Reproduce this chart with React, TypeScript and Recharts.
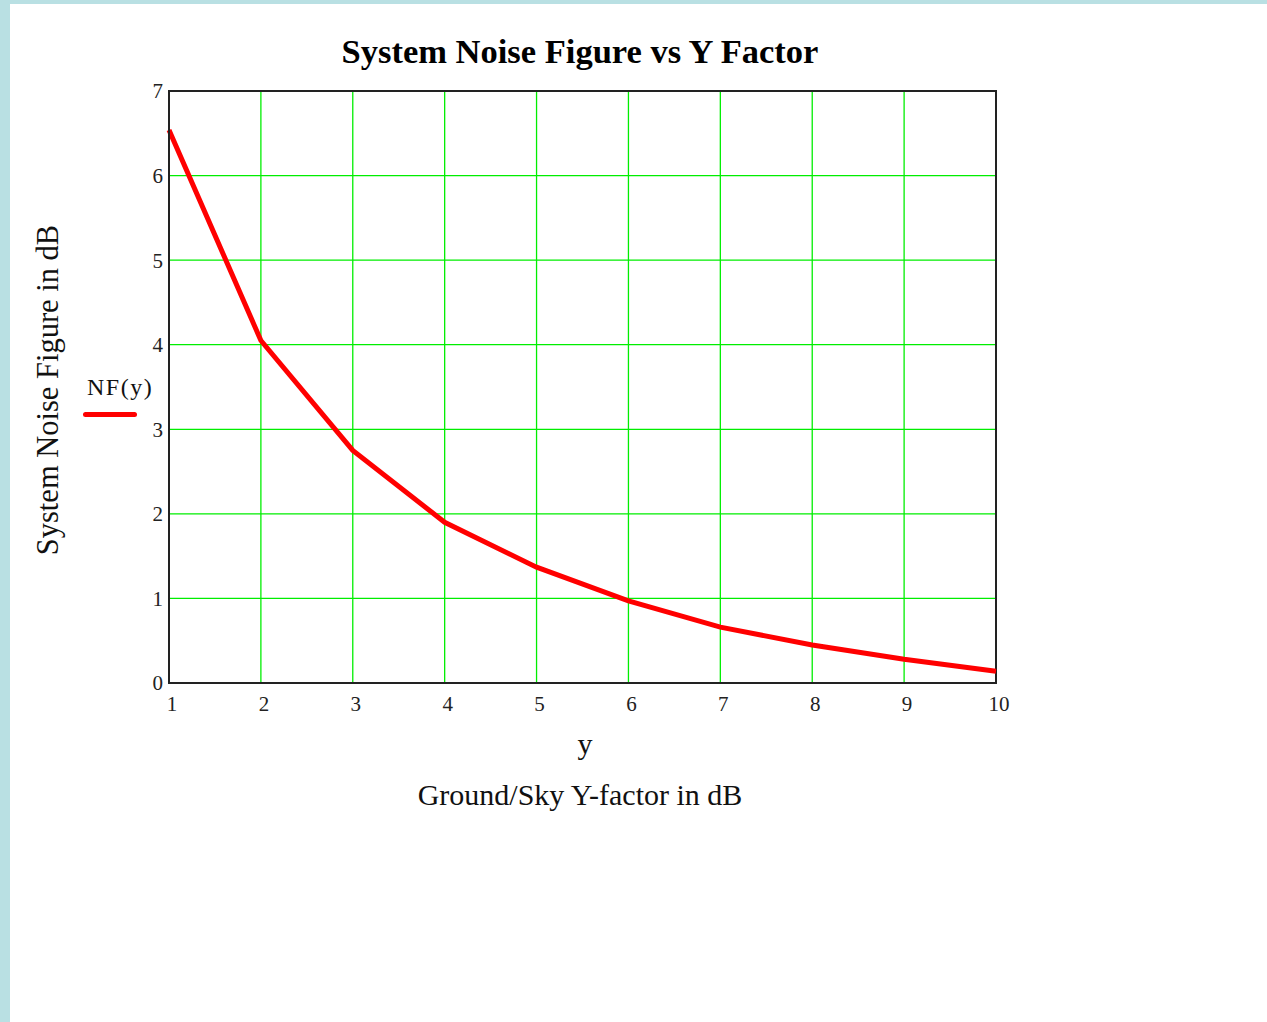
import { LineChart, Line, XAxis, YAxis, CartesianGrid, ReferenceArea } from "recharts";

// Y factor (dB) on x, system noise figure (dB) on y
const yFactor = [1, 2, 3, 4, 5, 6, 7, 8, 9, 10];
const noiseFigure = [6.54, 4.05, 2.75, 1.9, 1.37, 0.97, 0.66, 0.45, 0.28, 0.14];
const xTicks = [1, 2, 3, 4, 5, 6, 7, 8, 9, 10];
const yTicks = [0, 1, 2, 3, 4, 5, 6, 7];

const data = yFactor.map((y, i) => ({ y, nf: noiseFigure[i] }));

const SERIF = '"Liberation Serif", "Times New Roman", serif';

export default function App() {
  return (
    <div
      style={{
        position: "absolute",
        left: 0,
        top: 0,
        width: 1267,
        height: 1022,
        background: "#b9e0e3",
        overflow: "hidden",
      }}
    >
      <div
        style={{
          position: "absolute",
          left: 10,
          top: 4,
          width: 1257,
          height: 1018,
          background: "#fff",
          fontFamily: SERIF,
        }}
      >
        {/* titles */}
        <div
          style={{
            position: "absolute",
            left: 0,
            width: 1140,
            top: 28,
            textAlign: "center",
            fontWeight: "bold",
            fontSize: 34.5,
            color: "#000",
          }}
        >
          System Noise Figure vs Y Factor
        </div>
        <div
          style={{
            position: "absolute",
            left: 0,
            width: 1150,
            top: 723,
            textAlign: "center",
            fontSize: 30,
            color: "#111",
          }}
        >
          y
        </div>
        <div
          style={{
            position: "absolute",
            left: 0,
            width: 1140,
            top: 774,
            textAlign: "center",
            fontSize: 30,
            color: "#111",
          }}
        >
          Ground/Sky Y-factor in dB
        </div>
        <div
          style={{
            position: "absolute",
            left: 38,
            top: 386,
            transform: "translate(-50%, -50%) rotate(-90deg)",
            whiteSpace: "nowrap",
            fontSize: 30.5,
            color: "#111",
          }}
        >
          System Noise Figure in dB
        </div>

        {/* legend */}
        <div style={{ position: "absolute", left: 77, top: 370, fontSize: 24, letterSpacing: 1.5, color: "#111" }}>
          NF(y)
        </div>
        <div
          style={{
            position: "absolute",
            left: 73,
            top: 408,
            width: 54,
            height: 5,
            background: "#ff0000",
            borderRadius: 3,
          }}
        />

        <LineChart
          width={1257}
          height={1018}
          data={data}
          margin={{ top: 87, right: 271, left: 119, bottom: 309 }}
        >
          <CartesianGrid stroke="#00ee00" strokeWidth={1.3} />
          <XAxis
            dataKey="y"
            type="number"
            domain={[1, 10]}
            ticks={xTicks}
            height={30}
            tickLine={false}
            tickSize={0}
            tickMargin={13}
            axisLine={{ stroke: "#222", strokeWidth: 2 }}
            tick={{ fontSize: 21, fill: "#222", fontFamily: SERIF, dx: 3 }}
            interval={0}
          />
          <YAxis
            type="number"
            domain={[0, 7]}
            ticks={yTicks}
            width={40}
            tickLine={false}
            tickSize={0}
            tickMargin={6}
            axisLine={{ stroke: "#222", strokeWidth: 2 }}
            tick={{ fontSize: 21, fill: "#222", fontFamily: SERIF }}
            interval={0}
          />
          <ReferenceArea x1={1} x2={10} y1={0} y2={7} fill="none" stroke="#222" strokeWidth={2} ifOverflow="visible" />
          <Line
            dataKey="nf"
            name="NF(y)"
            stroke="#ff0000"
            strokeWidth={5}
            dot={false}
            isAnimationActive={false}
          />
        </LineChart>
      </div>
    </div>
  );
}
